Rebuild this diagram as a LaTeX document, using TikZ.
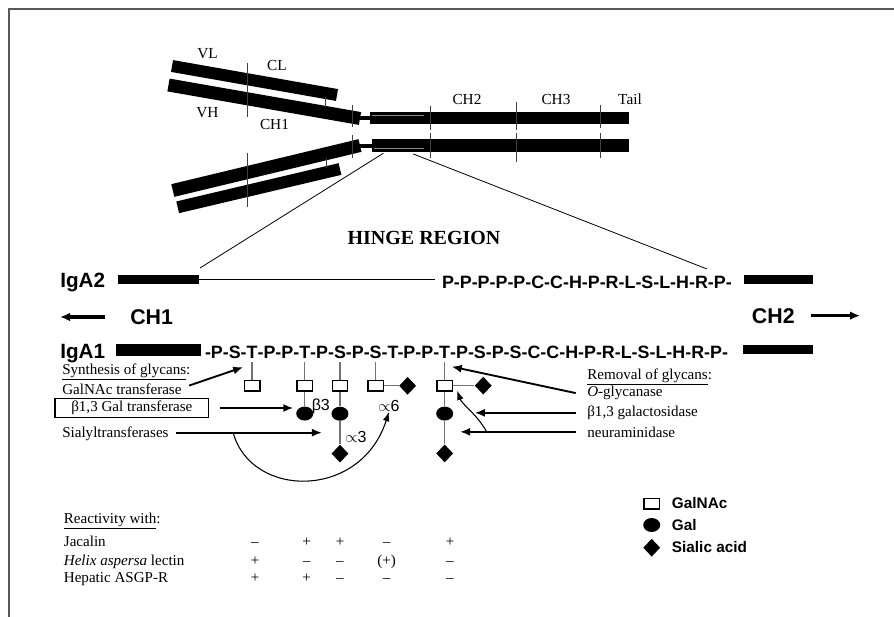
\documentclass[tikz,border=0pt]{standalone}
\usepackage{fontspec}
\setmainfont{Liberation Serif}
\newfontfamily\arial{Liberation Sans}
\usetikzlibrary{arrows.meta,positioning,calc,shapes.geometric}

\begin{document}
\begin{tikzpicture}[x=0.75pt,y=-0.75pt]

\tikzstyle{bar}=[line width=9.75pt]
\tikzstyle{tick}=[line width=0.7pt,black!75]
\tikzstyle{txt}=[font=\fontsize{11.3}{13}\selectfont, inner sep=1pt, anchor=base west]
\tikzstyle{val}=[font=\fontsize{11.3}{13}\selectfont, inner sep=0pt, anchor=base]
\tikzstyle{lab}=[font=\fontsize{11.5}{13}\selectfont, inner sep=0pt, anchor=base]
\tikzstyle{seq}=[font=\arial\bfseries\fontsize{13.4}{16}\selectfont, inner sep=0pt, outer sep=0pt, anchor=base west]
\tikzstyle{big}=[font=\arial\bfseries\fontsize{15.5}{18}\selectfont, inner sep=0pt, anchor=base west]
\tikzstyle{link}=[font=\arial\fontsize{12}{14}\selectfont, inner sep=0pt, anchor=west]
\tikzstyle{leg}=[font=\arial\bfseries\fontsize{11.5}{13}\selectfont, inner sep=0pt, anchor=base west]
\tikzstyle{blk}=[fill=black, inner sep=0pt, minimum height=6.75pt]
\tikzstyle{gnac}=[draw, line width=1.2pt, fill=white, minimum width=11.5pt, minimum height=7.8pt, inner sep=0pt]
\tikzstyle{gal}=[ellipse, fill=black, minimum width=12.75pt, minimum height=10.5pt, inner sep=0pt]
\tikzstyle{sia}=[diamond, fill=black, minimum width=12.75pt, minimum height=13.5pt, inner sep=0pt]
\tikzstyle{stem}=[line width=1pt, black!55]
\tikzstyle{arrow}=[-{Latex[length=7.5pt,width=6pt]}, line width=1.4pt]
\tikzstyle{bigarrow}=[-{Latex[length=7.5pt,width=6.5pt]}, line width=2.4pt]
\tikzstyle{thinarrow}=[-{Latex[length=7pt,width=5pt]}, line width=0.8pt]

\useasboundingbox (0,0) rectangle (894,617);
\draw[line width=1.5pt, black!65] (8.5,617) -- (8.5,9.5) -- (894,9.5);

% antibody
\draw[bar, line width=9pt] (172,66) -- (337,95);
\draw[bar] (168.5,85) -- (360,118.5);
\draw[bar] (172.8,190.5) -- (360,145.5);
\draw[bar, line width=9pt] (177.7,207.3) -- (340,169);
\draw[line width=3pt] (357,118) -- (372,118);
\draw[line width=3pt] (357,146.5) -- (374,146.5);
\fill (369.5,111.7) rectangle (629,124.3);
\fill (372,139.5) rectangle (629,152);
\draw[black!45, line width=0.5pt] (372,115.5) -- (424,115.5);
\draw[black!45, line width=0.5pt] (374,148.3) -- (424,148.3);
\foreach \x/\a/\b in {247/63/117, 325.7/97/107, 352/105/127, 430/106/130, 516.7/102/130, 600.7/105/128,
                      247/153/207, 326.7/158/168, 352/135/158, 430/133/158, 516.7/133/162, 600.7/133/158}
  \draw[tick] (\x,\a) -- (\x,\b);

\node (vl) [lab] at (207.5,58.3) {VL};
\node (cl) [lab] at (277,70.7) {CL};
\node (vh) [lab] at (207.5,117.3) {VH};
\node (ch1t) [lab] at (274.5,130) {CH1};
\node (ch2t) [lab] at (467,105) {CH2};
\node (ch3t) [lab] at (556,105) {CH3};
\node (tail) [lab] at (630,105) {Tail};

\coordinate (hzl) at (383.3,153.3);
\coordinate (hzr) at (413.3,154);
\coordinate (zl) at (200,268);
\coordinate (zr) at (707,269);
\draw[line width=0.6pt] (hzl) -- (zl);
\draw[line width=0.6pt] (hzr) -- (zr);

\node (hinge) [font=\bfseries\fontsize{15}{18}\selectfont, anchor=base] at (424,244) {HINGE REGION};

% IgA2
\node (a2lab) [big] at (60,287.5) {IgA2};
\node (a2L) [blk, minimum width=60.75pt] at (158.5,279.5) {};
\node (a2seq) [seq] at (442,288.3) {P-P-P-P-P-C-C-H-P-R-L-S-L-H-R-P-};
\node (a2R) [blk, minimum width=51.5pt] at (778.3,279.5) {};
\draw[line width=0.9pt, shorten >=5pt] (a2L.east) -- (a2L.east -| a2seq.west);

\node (ch1) [big, font=\arial\bfseries\fontsize{16}{18}\selectfont] at (130,324.3) {CH1};
\draw[bigarrow, shorten <=18.75pt] (ch1.west) -- (ch1.west -| a2lab.west);
\node (ch2) [big, font=\arial\bfseries\fontsize{16}{18}\selectfont] at (751.7,323) {CH2};
\coordinate (ch2end) at (860,316.7);
\draw[bigarrow, shorten <=12pt] (ch2.east) -- (ch2.east -| ch2end);

% IgA1
\node (a1lab) [big] at (60,358.3) {IgA1};
\node (a1L) [blk, minimum width=63.5pt, minimum height=8.75pt] at (158.3,350.2) {};
\node (s1) [seq] at (205,358.3) {-P-S-};
\node (g1) [seq] at (s1.base east) {T};
\node (s2) [seq] at (g1.base east) {-P-P-};
\node (g2) [seq] at (s2.base east) {T};
\node (s3) [seq] at (g2.base east) {-P-};
\node (g3) [seq] at (s3.base east) {S};
\node (s4) [seq] at (g3.base east) {-P-};
\node (g4) [seq] at (s4.base east) {S};
\node (s5) [seq] at (g4.base east) {-T-P-P-};
\node (g5) [seq] at (s5.base east) {T};
\node (s6) [seq] at (g5.base east) {-P-S-P-S-C-C-H-P-R-L-S-L-H-R-P-};
\node (a1R) [blk, minimum width=52.5pt] at (778,349.5) {};

% glycans
\node (n1) [gnac, below=16pt of g1] {};
\node (n2) [gnac, below=16pt of g2] {};
\node (n3) [gnac, below=16pt of g3] {};
\node (n4) [gnac, below=16pt of g4] {};
\node (n5) [gnac, below=16pt of g5] {};
\node (gal2) [gal, below=11pt of n2] {};
\node (gal3) [gal, below=11pt of n3] {};
\node (gal5) [gal, below=11pt of n5] {};
\node (sia3) [sia, below=17.5pt of gal3] {};
\node (sia5b) [sia, below=17.5pt of gal5] {};
\node (sia4) [sia, right=11pt of n4] {};
\node (sia5a) [sia, right=16pt of n5] {};

\foreach \i in {1,...,5}
  \draw[stem] ($(g\i.south)+(0,4)$) -- (n\i.north);
\draw[stem] (n2.south) -- (gal2.north);
\draw[stem] (n3.south) -- (gal3.north);
\draw[stem] (n5.south) -- (gal5.north);
\draw[stem] (gal3.south) -- (sia3.north);
\draw[stem] (gal5.south) -- (sia5b.north);
\draw[stem] (n4.east) -- (sia4.west);
\draw[stem] (n5.east) -- (sia5a.west);

\node (b3) [link] at (311.5,406.7) {β3};
\node (a3) [link] at (345,436.7) {$\propto$3};
\node (a6) [link] at (378,406) {$\propto$6};

% synthesis
\node (synth) [txt] at (60.7,374) {\underline{Synthesis of glycans}:};
\node (galnac) [txt] at (60.7,394.3) {GalNAc transferase};
\node (galt) [draw, line width=1.1pt, font=\fontsize{11.3}{13}\selectfont, minimum width=115pt, minimum height=13.9pt, inner sep=0pt] at (131.8,408) {β1,3 Gal transferase};
\node (sialyl) [txt] at (60.7,437.7) {Sialyltransferases};

\draw[arrow] ($(galnac.east)+(6,-3.5)$) -- ($(n1.north)+(-9,-12.5)$);
\draw[arrow, shorten <=8pt, shorten >=2pt] (galt.east) -- (galt.east -| gal2.west);
\coordinate (sia3in) at ($(gal3.south)!.5!(sia3.north)+(-18,0)$);
\draw[arrow, shorten <=4pt] (sialyl.east |- sia3in) -- (sia3in);
\coordinate (sbranch) at ($(sialyl.east |- sia3in)+(63,0)$);
\draw[thinarrow] (sbranch) .. controls +(18,66) and +(-28,88) .. (a6.south);

% removal
\node (removal) [txt] at (585.7,379) {\underline{Removal of glycans}:};
\node (oglyc) [txt] at (585.7,396.7) {\textit{O}-glycanase};
\node (galase) [txt] at (585.7,416.5) {β1,3 galactosidase};
\node (neur) [txt] at (585.7,437) {neuraminidase};

\draw[arrow] ($(oglyc.west)+(-10,0)$) -- ($(n5.north)+(7,-13)$);
\draw[arrow, shorten >=16pt] ($(galase.west)+(-10,0)$) -- (galase.west -| gal5.east);
\draw[arrow, shorten >=5pt] ($(neur.west)+(-10,0)$) -- (neur.west -| gal5.east);
\coordinate (nbranch) at ($(neur.west)+(-99,0)$);
\draw[thinarrow] (nbranch) .. controls +(-10,-18) and +(5,14) .. ($(n5.south east)+(4,-1)$);

% reactivity
\node (react) [txt] at (62.3,523) {\underline{Reactivity with}:};
\node (jac) [txt] at (62.3,546.7) {Jacalin};
\node (helix) [txt] at (62.3,565) {\textit{Helix aspersa} lectin};
\node (asgp) [txt] at (62.3,582.7) {Hepatic ASGP-R};
\foreach \x/\v [count=\c] in {255/–, 306.7/+, 340/+, 386.7/–, 450/+}
  \node (jac\c) [val] at (\x,546.7) {\v};
\foreach \x/\v [count=\c] in {255/+, 306.7/–, 340/–, 386.7/(+), 450/–}
  \node (helix\c) [val] at (\x,565) {\v};
\foreach \x/\v [count=\c] in {255/+, 306.7/+, 340/–, 386.7/–, 450/–}
  \node (asgp\c) [val] at (\x,582.7) {\v};

% legend
\node (lsq) [gnac] at (651.7,503.5) {};
\node (lgal) [gal] at (651.7,525) {};
\node (lsia) [sia] at (651.7,547.7) {};
\node (lsqt) [leg] at (671.7,508) {GalNAc};
\node (lgalt) [leg] at (671.7,530) {Gal};
\node (lsiat) [leg] at (671.7,552.3) {Sialic acid};

\end{tikzpicture}
\end{document}
